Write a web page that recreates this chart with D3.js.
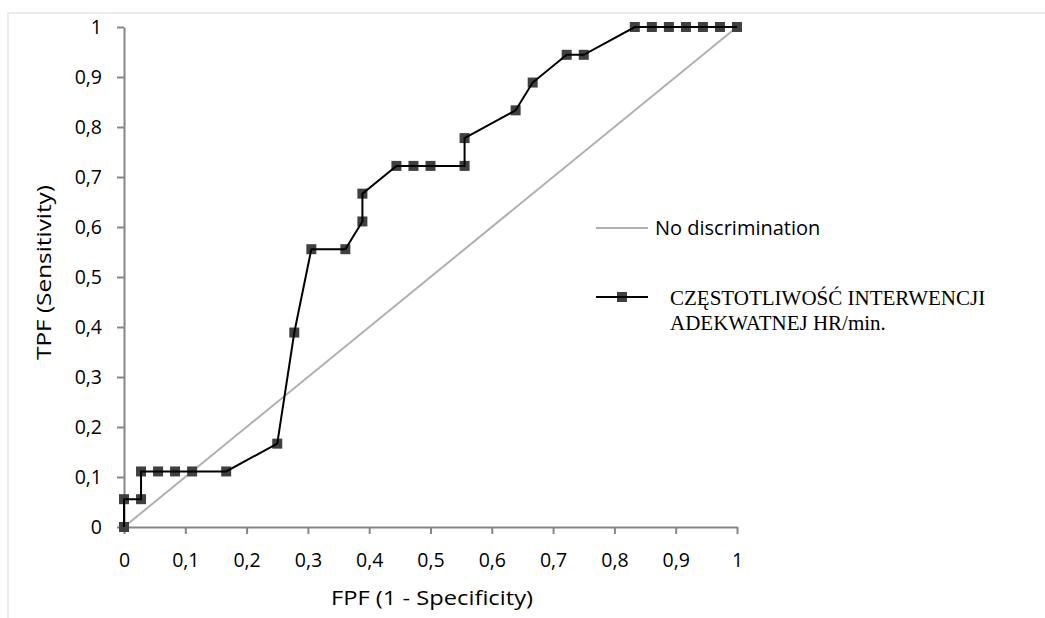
<!DOCTYPE html>
<html>
<head>
<meta charset="utf-8">
<script src="https://cdn.jsdelivr.net/npm/d3@7"></script>
<style>
  body { margin: 0; background: #fff; }
  svg { display: block; }
  .axis path, .axis line { stroke: #868686; stroke-width: 2; }
  .axis text { font-family: "Open Sans", sans-serif; font-size: 19.5px; fill: #000; }
</style>
</head>
<body>
<div id="chart-area"></div>
<script>
// ROC curve points (FPF, TPF)
var fpf = [0, 0, 0.0278, 0.0278, 0.0556, 0.0833, 0.1111, 0.1667, 0.25, 0.2778, 0.3056, 0.3611,
           0.3889, 0.3889, 0.4444, 0.4722, 0.5, 0.5556, 0.5556, 0.6389, 0.6667, 0.7222, 0.75,
           0.8333, 0.8611, 0.8889, 0.9167, 0.9444, 0.9722, 1];
var tpf = [0, 0.0556, 0.0556, 0.1111, 0.1111, 0.1111, 0.1111, 0.1111, 0.1667, 0.3889, 0.5556, 0.5556,
           0.6111, 0.6667, 0.7222, 0.7222, 0.7222, 0.7222, 0.7778, 0.8333, 0.8889, 0.9444, 0.9444,
           1, 1, 1, 1, 1, 1, 1];
var diagonal = [[0, 0], [1, 1]];
var ticks = [0, 0.1, 0.2, 0.3, 0.4, 0.5, 0.6, 0.7, 0.8, 0.9, 1];
var seriesName = ["CZĘSTOTLIWOŚĆ INTERWENCJI", "ADEKWATNEJ HR/min."];
var diagName = "No discrimination";

var width = 1045, height = 618;
var sans = "'Open Sans', sans-serif";
var svg = d3.select("#chart-area").append("svg")
    .attr("width", width)
    .attr("height", height);

// chart area border (mostly cut off on right/bottom)
svg.append("rect")
    .attr("x", 8).attr("y", 13)
    .attr("width", 1100).attr("height", 700)
    .attr("fill", "#fff")
    .attr("stroke", "#ececec")
    .attr("stroke-width", 2);

var x = d3.scaleLinear().domain([0, 1]).range([124, 737]);
var y = d3.scaleLinear().domain([0, 1]).range([527, 27]);

var locale = d3.formatLocale({decimal: ",", thousands: " ", grouping: [3], currency: ["", ""]});
var fmt = locale.format("~g");

var xAxis = d3.axisBottom(x).tickValues(ticks).tickFormat(fmt).tickSize(7).tickSizeOuter(0).tickPadding(19);
var yAxis = d3.axisLeft(y).tickValues(ticks).tickFormat(fmt).tickSize(7).tickSizeOuter(0).tickPadding(15);

svg.append("g")
    .attr("class", "axis")
    .attr("transform", "translate(0," + y(0) + ")")
    .call(xAxis);
svg.append("g")
    .attr("class", "axis")
    .attr("transform", "translate(" + x(0) + ",0)")
    .call(yAxis);

// diagonal
var line = d3.line().x(function(d) { return x(d[0]); }).y(function(d) { return y(d[1]); });
svg.append("path")
    .datum(diagonal)
    .attr("d", line)
    .attr("fill", "none")
    .attr("stroke", "#b0b0b0")
    .attr("stroke-width", 2);

var pts = fpf.map(function(d, i) { return [d, tpf[i]]; });

// markers
svg.selectAll("rect.marker")
    .data(pts)
    .enter().append("rect")
    .attr("class", "marker")
    .attr("x", function(d) { return x(d[0]) - 5; })
    .attr("y", function(d) { return y(d[1]) - 5; })
    .attr("width", 10)
    .attr("height", 10)
    .attr("fill", "#404040");

svg.append("path")
    .datum(pts)
    .attr("d", line)
    .attr("fill", "none")
    .attr("stroke", "#000")
    .attr("stroke-width", 2);

// axis titles
svg.append("text")
    .attr("x", 331).attr("y", 605)
    .attr("textLength", 202)
    .attr("lengthAdjust", "spacingAndGlyphs")
    .style("font-family", sans)
    .style("font-size", "20.5px")
    .text("FPF (1 - Specificity)");
svg.append("text")
    .attr("transform", "translate(51,360) rotate(-90)")
    .attr("textLength", 175)
    .attr("lengthAdjust", "spacingAndGlyphs")
    .style("font-family", sans)
    .style("font-size", "20.5px")
    .text("TPF (Sensitivity)");

// legend
var lg = svg.append("g");
lg.append("line")
    .attr("x1", 596).attr("x2", 648).attr("y1", 228).attr("y2", 228)
    .attr("stroke", "#b0b0b0").attr("stroke-width", 2);
lg.append("text")
    .attr("x", 655).attr("y", 235)
    .style("font-family", sans)
    .style("font-size", "20px")
    .text(diagName);

lg.append("rect")
    .attr("x", 617).attr("y", 292).attr("width", 10).attr("height", 10)
    .attr("fill", "#404040");
lg.append("line")
    .attr("x1", 596).attr("x2", 648).attr("y1", 297).attr("y2", 297)
    .attr("stroke", "#000").attr("stroke-width", 2);
lg.selectAll("text.ser")
    .data(seriesName)
    .enter().append("text")
    .attr("class", "ser")
    .attr("x", 670)
    .attr("y", function(d, i) { return 305 + i * 25; })
    .style("font-family", "'Liberation Serif', 'Times New Roman', serif")
    .style("font-size", "21px")
    .text(function(d) { return d; });
</script>
</body>
</html>
